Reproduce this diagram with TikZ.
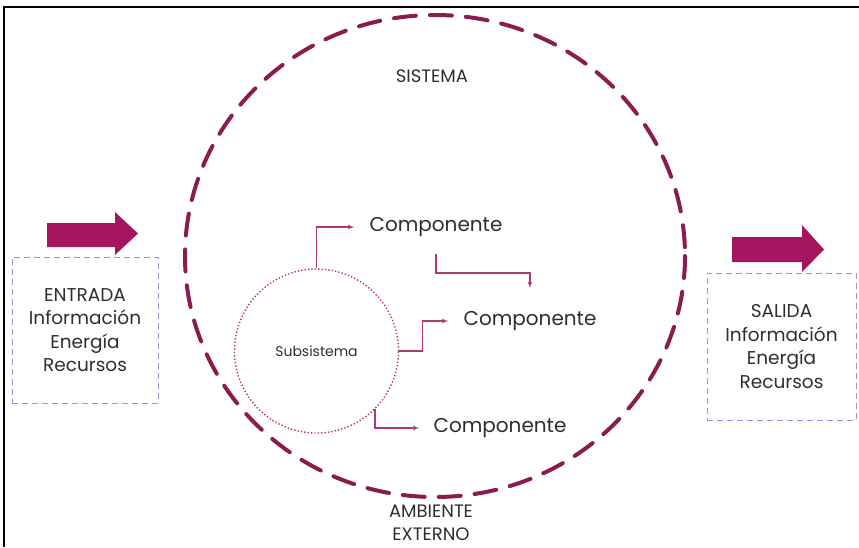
\documentclass[tikz,border=0pt]{standalone}
\usepackage{fontspec}
\setmainfont{Poppins}
\usepackage{xcolor}
\usetikzlibrary{positioning,arrows}
\definecolor{vino}{HTML}{8A1C4E}
\definecolor{fucsia}{HTML}{A5145F}
\definecolor{rosa}{HTML}{B23A72}
\definecolor{lila}{HTML}{A58BD9}
\definecolor{gris}{HTML}{2E2E2E}

\begin{document}
\begin{tikzpicture}[x=1pt,y=-1pt,>=latex',
	conn/.style={->,draw=rosa,line width=1.2pt},
	iobox/.style={draw=lila,dashed,dash pattern=on 6pt off 4pt,line width=1pt,
		minimum width=146,minimum height=146,align=center,text=gris,
		font=\fontsize{18.5}{23.5}\selectfont},
	lbl/.style={text=gris,inner sep=1pt,font=\fontsize{20}{24}\selectfont},
	caps/.style={text=gris,align=center,inner sep=0pt,font=\fontsize{18}{23}\selectfont}]
		\useasboundingbox (0,0) rectangle (859,547);
		\draw[line width=1.2pt] (4,547) -- (4,7) -- (859,7);

		% sistema
		\draw[vino,line width=4pt,line cap=round,dash pattern=on 22pt off 14pt]
			(435,256) ellipse (250 and 241);
		\node[caps] (sis) at (432,76) {SISTEMA};
		\node[caps] (amb) at (431,523) {AMBIENTE\\EXTERNO};

		\node[circle,draw=rosa,dotted,line width=1.4pt,minimum size=164,
			text=gris,font=\fontsize{14}{16}\selectfont] (sub) at (316.5,351) {Subsistema};

		\node[lbl] (c1) at (436,227) {Componente};
		\node[lbl] (c2) at (530,321) {Componente};
		\node[lbl] (c3) at (500,428) {Componente};

		\coordinate (k) at (c1.south |- 0,273);
		\draw[conn,shorten >=14pt] (sub.north) |- (c1.west);
		\draw[conn,shorten <=16pt,shorten >=22pt] (c1.south) -- (k) -| (c2.north);
		\draw[conn,shorten >=14pt] (sub.east) -- ++(23,0) |- (c2.west);
		\draw[conn,shorten >=13pt] (sub.-45) |- (c3.west);

		% entrada / salida
		\node[iobox] (ent) at (85,330) {ENTRADA\\Información\\Energía\\Recursos};
		\node[iobox,minimum width=149,minimum height=147] (sal) at (781.5,346.5)
			{SALIDA\\Información\\Energía\\Recursos};
		\fill[fucsia] (47,223) -- (115,223) -- (115,212) -- (138,233.5)
			-- (115,255) -- (115,247) -- (47,247) -- cycle;
		\fill[fucsia] (732,237) -- (802,237) -- (802,225) -- (824,249.5)
			-- (802,272) -- (802,262) -- (732,262) -- cycle;
	\end{tikzpicture}
\end{document}
